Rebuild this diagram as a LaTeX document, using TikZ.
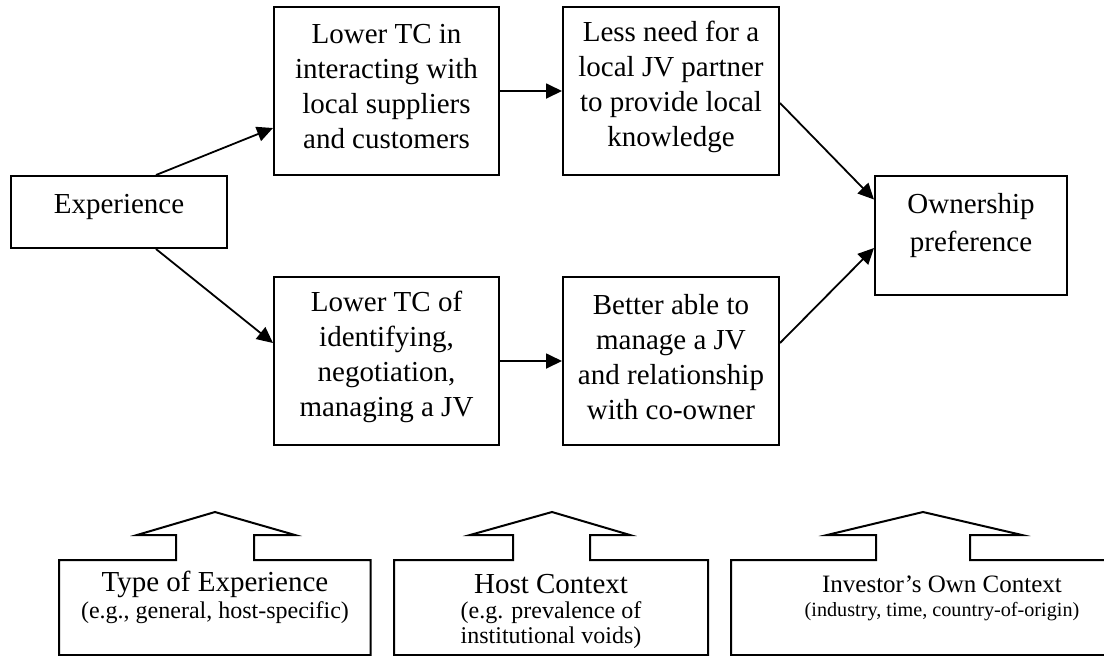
\documentclass[tikz,border=0pt]{standalone}
\usepackage{fontspec}
\setmainfont{Liberation Serif}
\usetikzlibrary{matrix, arrows.meta}

\tikzset{
  box/.style={draw, line width=1pt, inner sep=0pt},
  txt/.style={align=center, inner sep=0pt, font=\fontsize{14.5}{17.5}\selectfont},
  subtxt/.style={align=center, inner sep=0pt, font=\fontsize{12}{12.5}\selectfont},
  callout/.style={draw, line width=1pt, line join=miter},
}

\begin{document}
\begin{tikzpicture}[x=0.5pt, y=-0.5pt, line width=0.9pt, >={Triangle[length=8pt, width=7.5pt]}]
\useasboundingbox (0,0) rectangle (1104,655);

\node[box, minimum width=108pt, minimum height=36pt] (exp) at (119,212) {};
\node[txt] (exptext) at ([yshift=2.75pt]exp.center) {Experience};

\matrix[column sep=31pt, row sep=50pt, inner sep=0pt] at (526.5,226)
{
\node[box, minimum width=112.5pt, minimum height=84pt](tcone){}; & \node[box, minimum width=108pt, minimum height=84pt](need){}; \\
\node[box, minimum width=112.5pt, minimum height=84pt](tctwo){}; & \node[box, minimum width=108pt, minimum height=84pt](manage){}; \\
};
\node[txt] (tconetext) at ([yshift=2pt]tcone.center) {Lower TC in\\interacting with\\local suppliers\\and customers};
\node[txt] (needtext) at ([yshift=2pt]need.center) {Less need for a\\local JV partner\\to provide local\\knowledge};
\node[txt] (tctwotext) at ([yshift=2pt]tctwo.center) {Lower TC of\\identifying,\\negotiation,\\managing a JV};
\node[txt] (managetext) at ([yshift=2pt]manage.center) {Better able to\\manage a JV\\and relationship\\with co-owner};

\node[box, minimum width=96pt, minimum height=59.5pt] (own) at (971,235.5) {};
\node[txt] (owntext) at ([yshift=4.75pt]own.center) {Ownership\\[1.5pt]preference};

\draw[->] ([xshift=18.5pt]exp.north) -- ([yshift=-18.5pt]tcone.west);
\draw[->] ([xshift=18.5pt]exp.south) -- ([yshift=9pt]tctwo.west);
\draw[->] (tcone) -- (need);
\draw[->] (tctwo) -- (manage);
\draw[->] ([yshift=-6pt]need.east) -- ([yshift=18pt]own.west);
\draw[->] ([yshift=9pt]manage.east) -- ([yshift=-6.25pt]own.west);

% block arrows at the bottom
\draw[callout] (59,655) -- (59,560) -- (176,560) -- (176,535) -- (137,535) -- (215,512) -- (295,535) -- (254,535) -- (254,560) -- (370.7,560) -- (370.7,655) -- cycle;
\draw[callout] (394,655) -- (394,560) -- (513,560) -- (513,535) -- (470,535) -- (552,512) -- (630,535) -- (590,535) -- (590,560) -- (708,560) -- (708,655) -- cycle;
\draw[callout] (731,655) -- (731,560) -- (876,560) -- (876,535) -- (827,535) -- (923,512) -- (1022,535) -- (970,535) -- (970,560) -- (1110,560) -- (1110,655) -- cycle;

\node[txt] (typetitle) at (215,584) {Type of Experience};
\node[subtxt] (typesub) at (215,613) {(e.g., general, host-specific)};
\node[txt] (hosttitle) at (551,584) {Host Context};
\node[subtxt] (hostsub) at (551,625.5) {(e.g. prevalence of\\institutional voids)};
\node[txt, font=\fontsize{12.5}{15}\selectfont] (invtitle) at (942,584) {Investor's Own Context};
\node[subtxt, font=\fontsize{10.1}{12}\selectfont] (invsub) at (942,612) {(industry, time, country-of-origin)};
\end{tikzpicture}
\end{document}
